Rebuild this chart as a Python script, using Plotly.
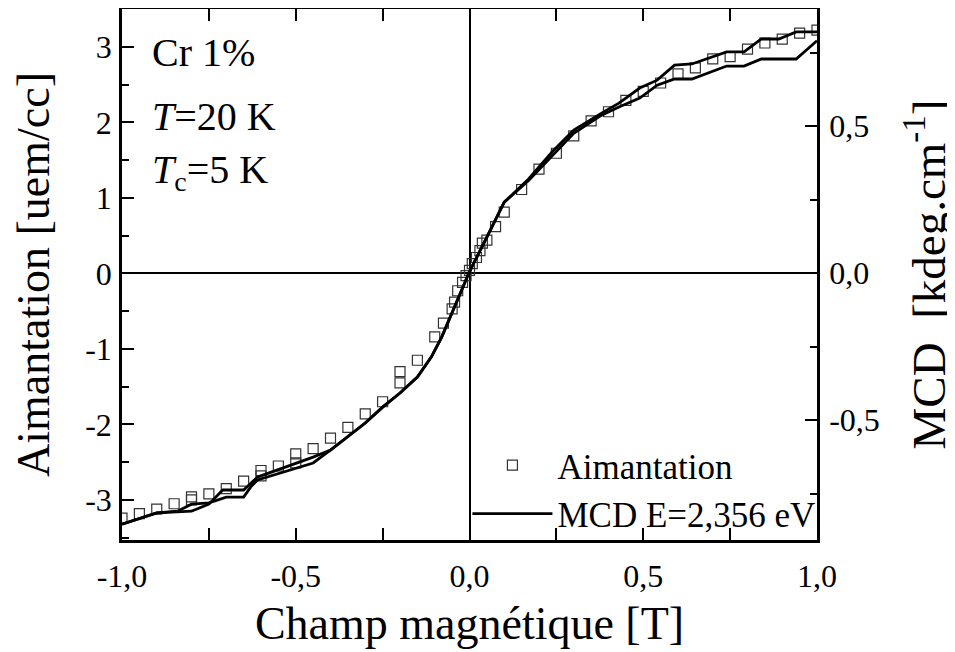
import plotly.graph_objects as go

# Aimantation (left axis, uem/cc) - open squares, both sweeps
field_m = [-1.0, -0.95, -0.90, -0.85, -0.80, -0.80, -0.75, -0.70, -0.65, -0.60, -0.60,
           -0.55, -0.50, -0.50, -0.45, -0.40, -0.35, -0.30, -0.25, -0.20, -0.20, -0.15,
           -0.10, -0.075, -0.05, -0.043, -0.034, -0.02, -0.01, 0.0, 0.008, 0.02, 0.03,
           0.037, 0.05, 0.075, 0.10, 0.15, 0.20, 0.25, 0.30, 0.35, 0.40, 0.45, 0.50,
           0.55, 0.60, 0.65, 0.70, 0.75, 0.80, 0.85, 0.90, 0.95, 1.0]
aimant = [-3.24, -3.18, -3.12, -3.05, -2.96, -3.0, -2.92, -2.85, -2.75, -2.61, -2.68,
          -2.55, -2.39, -2.51, -2.32, -2.18, -2.04, -1.86, -1.70, -1.30, -1.45, -1.15,
          -0.84, -0.66, -0.47, -0.38, -0.23, -0.12, -0.03, 0.04, 0.13, 0.21, 0.30,
          0.40, 0.44, 0.62, 0.81, 1.11, 1.38, 1.59, 1.82, 2.02, 2.14, 2.29, 2.41,
          2.52, 2.64, 2.72, 2.84, 2.87, 2.97, 3.05, 3.10, 3.18, 3.22]

# MCD E=2,356 eV (right axis, kdeg.cm-1) - sweep up and sweep down
field_up = [-1.0, -0.90, -0.84, -0.80, -0.75, -0.70, -0.65, -0.63, -0.61, -0.45, -0.40,
            -0.30, -0.25, -0.20, -0.15, -0.11, -0.08, -0.055, -0.026, 0.0, 0.05, 0.10,
            0.17, 0.24, 0.30, 0.38, 0.43, 0.49, 0.54, 0.59, 0.64, 0.74, 0.79, 0.84,
            0.94, 1.0]
mcd_up = [-0.854, -0.816, -0.810, -0.786, -0.782, -0.762, -0.762, -0.728, -0.704, -0.646,
          -0.602, -0.510, -0.456, -0.408, -0.354, -0.286, -0.218, -0.150, -0.068, 0.005,
          0.122, 0.241, 0.315, 0.400, 0.475, 0.537, 0.565, 0.595, 0.639, 0.660, 0.660,
          0.704, 0.704, 0.728, 0.728, 0.790]
field_down = [1.0, 0.94, 0.89, 0.84, 0.79, 0.74, 0.64, 0.59, 0.54, 0.49, 0.43, 0.38,
              0.30, 0.24, 0.17, 0.10, 0.05, 0.0, -0.026, -0.055, -0.08, -0.11, -0.15,
              -0.20, -0.25, -0.30, -0.40, -0.45, -0.55, -0.61, -0.65, -0.71, -0.75,
              -0.80, -0.90, -1.0]
mcd_down = [0.820, 0.820, 0.796, 0.796, 0.752, 0.752, 0.711, 0.707, 0.656, 0.629, 0.578,
            0.544, 0.486, 0.415, 0.320, 0.241, 0.122, 0.005, -0.068, -0.150, -0.218,
            -0.286, -0.354, -0.408, -0.456, -0.510, -0.602, -0.626, -0.667, -0.694,
            -0.738, -0.738, -0.786, -0.810, -0.816, -0.854]

x_ticks = [-1.0, -0.5, 0.0, 0.5, 1.0]
x_labels = ["-1,0", "-0,5", "0,0", "0,5", "1,0"]
y_ticks = [-3, -2, -1, 0, 1, 2, 3]
y_labels = ["-3", "-2", "-1", "0", "1", "2", "3"]
y2_ticks = [-0.5, 0.0, 0.5]
y2_labels = ["-0,5", "0,0", "0,5"]

FONT = "Liberation Serif, Times New Roman, serif"

fig = go.Figure()

fig.add_trace(go.Scatter(
    x=field_m, y=aimant, mode="markers", name="Aimantation",
    marker=dict(symbol="square-open", size=10, color="#333333", line=dict(width=1.2))
))
fig.add_trace(go.Scatter(
    x=field_up, y=mcd_up, yaxis="y2", mode="lines", name="MCD E=2,356 eV",
    line=dict(color="black", width=2.8)
))
fig.add_trace(go.Scatter(
    x=field_down, y=mcd_down, yaxis="y2", mode="lines", showlegend=False,
    line=dict(color="black", width=2.8)
))

axis_common = dict(
    showgrid=False, showline=True, linecolor="black", linewidth=2.5,
    ticks="inside", ticklen=12, tickwidth=2, tickcolor="black", automargin=False,
    tickfont=dict(family=FONT, size=32, color="black"),
)

# page body has an 8px margin, so the figure is 8px smaller than the window
fig.update_layout(
    width=947, height=644,
    margin=dict(l=114, r=138, t=1, b=112),
    plot_bgcolor="white", paper_bgcolor="white",
    font=dict(family=FONT, color="black"),
    xaxis=dict(
        **axis_common, range=[-1.0, 1.0], tickvals=x_ticks, ticktext=x_labels,
        mirror="allticks", zeroline=True, zerolinecolor="black", zerolinewidth=2,
        ticklabelstandoff=6,
        minor=dict(dtick=0.25, ticks="inside", ticklen=7, tickwidth=2, tickcolor="black"),
        title=dict(text="Champ magnétique [T]", font=dict(family=FONT, size=46), standoff=14),
    ),
    yaxis=dict(
        **axis_common, range=[-3.53, 3.5], tickvals=y_ticks, ticktext=y_labels,
        zeroline=True, zerolinecolor="black", zerolinewidth=2, ticklabelstandoff=1,
        minor=dict(dtick=0.5, ticks="inside", ticklen=7, tickwidth=2, tickcolor="black"),
        title=dict(text="Aimantation [uem/cc]", font=dict(family=FONT, size=46), standoff=40),
    ),
    yaxis2=dict(
        **axis_common, overlaying="y", side="right", range=[-0.908, 0.898],
        tickvals=y2_ticks, ticktext=y2_labels, zeroline=False, ticklabelstandoff=3,
        minor=dict(dtick=0.25, ticks="inside", ticklen=7, tickwidth=2, tickcolor="black"),
        title=dict(text="MCD  [kdeg.cm<sup>-1</sup>]", font=dict(family=FONT, size=47), standoff=42),
    ),
    legend=dict(
        x=0.497, y=0.196, xanchor="left", yanchor="top",
        font=dict(family=FONT, size=35, color="black"),
        bgcolor="rgba(0,0,0,0)", itemwidth=80, tracegroupgap=0,
    ),
)

fig.add_annotation(x=0.04, y=0.918, xref="paper", yref="paper", xanchor="left", yanchor="middle",
                   text="Cr 1%", showarrow=False, font=dict(family=FONT, size=40))
fig.add_annotation(x=0.04, y=0.798, xref="paper", yref="paper", xanchor="left", yanchor="middle",
                   text="<i>T</i>=20 K", showarrow=False, font=dict(family=FONT, size=40))
fig.add_annotation(x=0.04, y=0.693, xref="paper", yref="paper", xanchor="left", yanchor="middle",
                   text="<i>T</i><sub>c</sub>=5 K", showarrow=False, font=dict(family=FONT, size=40))

fig.write_html("out.html")
